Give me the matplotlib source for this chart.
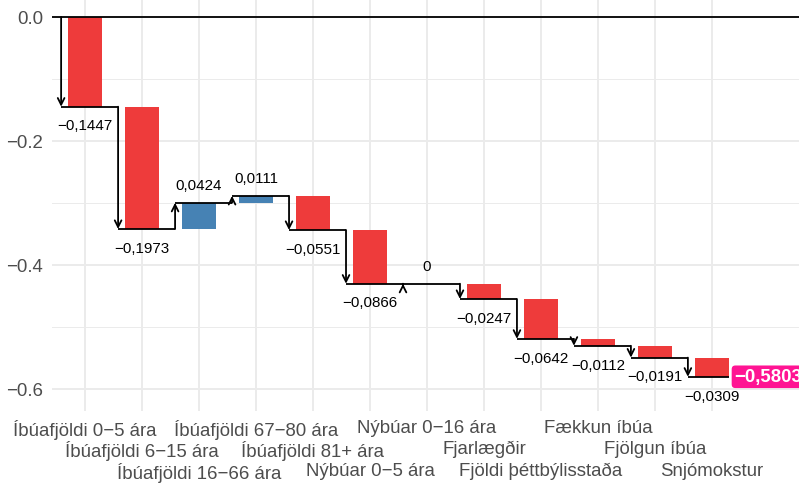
import numpy as np
import matplotlib.pyplot as plt
from matplotlib.ticker import FuncFormatter

plt.rcParams["font.family"] = ["Liberation Sans", "DejaVu Sans"]

CATEGORIES = [
    "Íbúafjöldi 0−5 ára",
    "Íbúafjöldi 6−15 ára",
    "Íbúafjöldi 16−66 ára",
    "Íbúafjöldi 67−80 ára",
    "Íbúafjöldi 81+ ára",
    "Nýbúar 0−5 ára",
    "Nýbúar 0−16 ára",
    "Fjarlægðir",
    "Fjöldi þéttbýlisstaða",
    "Fækkun íbúa",
    "Fjölgun íbúa",
    "Snjómokstur",
]
VALUES = [-0.1447, -0.1973, 0.0424, 0.0111, -0.0551, -0.0866,
          0.0, -0.0247, -0.0642, -0.0112, -0.0191, -0.0309]
Y_TICKS = [0.0, -0.2, -0.4, -0.6]
Y_MINOR = [-0.1, -0.3, -0.5]

RED = "#EE3B3B"
BLUE = "#4682B4"
PINK = "#FF1493"
BAR_WIDTH = 0.6
ARROW_OFFSET = 0.42
LABEL_ROWS = 3
ROW_STEP = 15.5  # points between dodged label rows


def fmt_value(v):
    if v == 0:
        return "0"
    return f"{v:.4f}".replace(".", ",").replace("-", "\u2212")


def fmt_tick(v, _pos=None):
    s = f"{v:.1f}"
    if s == "-0.0":
        s = "0.0"
    return s.replace("-", "\u2212")


def main():
    values = np.array(VALUES)
    ends = np.round(np.cumsum(values), 4)
    starts = ends - values
    x = np.arange(len(values))
    arrow_x = x - ARROW_OFFSET
    total = ends[-1]

    fig = plt.figure(figsize=(7.99, 4.85), dpi=100)
    ax = fig.add_axes([52 / 799, 73 / 485, 747 / 799, 412 / 485])

    colors = [RED if v < 0 else BLUE for v in values]
    ax.bar(x, values, bottom=starts, width=BAR_WIDTH, color=colors, zorder=2)

    ax.axhline(0, color="black", lw=1.3, zorder=3)

    # connector lines between the arrows
    for i in range(len(values) - 1):
        ax.plot([arrow_x[i], arrow_x[i + 1]], [ends[i], ends[i]],
                color="black", lw=1.3, zorder=3, solid_capstyle="butt")
    ax.plot([arrow_x[-1], x[-1] + BAR_WIDTH / 2], [ends[-1], ends[-1]],
            color="black", lw=1.3, zorder=3, solid_capstyle="butt")

    # arrows showing each step (a zero step still gets a small head)
    for i, v in enumerate(values):
        start = starts[i] if v != 0 else ends[i] - 1e-4
        ax.annotate("", xy=(arrow_x[i], ends[i]), xytext=(arrow_x[i], start),
                    arrowprops=dict(arrowstyle="->", lw=1.3, color="black",
                                    shrinkA=0, shrinkB=0, mutation_scale=12),
                    zorder=4)

    # value labels
    for i, v in enumerate(values):
        offset = -13.5 if v < 0 else 13
        ax.annotate(fmt_value(v), (x[i], ends[i]), xytext=(0, offset),
                    textcoords="offset points", ha="center", va="center",
                    fontsize=10.9, color="black")

    ax.annotate(fmt_value(total), (x[-1] + BAR_WIDTH / 2, total),
                xytext=(4, 0), textcoords="offset points",
                ha="left", va="center", fontsize=13.4, fontweight="bold",
                color="white",
                bbox=dict(boxstyle="round,pad=0.15,rounding_size=0.2",
                          fc=PINK, ec="none"))

    ax.set_xlim(-0.58, 12.53)
    ax.set_ylim(-0.6355, 0.029)

    ax.set_xticks(x)
    ax.set_xticklabels(CATEGORIES)
    ax.set_yticks(Y_TICKS)
    ax.set_yticks(Y_MINOR, minor=True)
    ax.yaxis.set_major_formatter(FuncFormatter(fmt_tick))

    ax.tick_params(axis="both", which="both", length=0, colors="#4D4D4D",
                   labelsize=13.4)
    ax.tick_params(axis="y", pad=6.5)
    # dodge the category labels over three rows
    for i, tick in enumerate(ax.xaxis.get_major_ticks()):
        tick.set_pad(5.5 + ROW_STEP * (i % LABEL_ROWS))

    ax.grid(which="major", color="#EBEBEB", lw=1.4)
    ax.grid(which="minor", axis="y", color="#EBEBEB", lw=0.7)
    ax.set_axisbelow(True)
    for spine in ax.spines.values():
        spine.set_visible(False)

    fig.savefig("out.png", dpi=100)


if __name__ == "__main__":
    main()
